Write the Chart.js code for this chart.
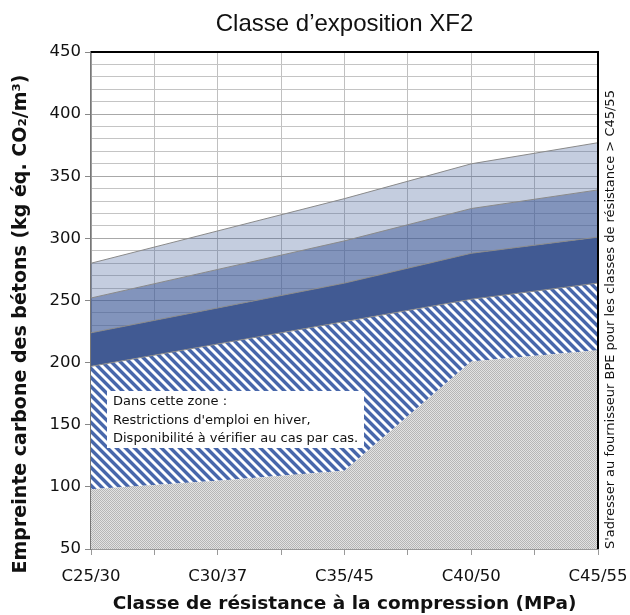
<!DOCTYPE html>
<html>
<head>
<meta charset="utf-8">
<script src="https://cdn.jsdelivr.net/npm/chart.js@4/dist/chart.umd.min.js"></script>
<style>
html,body{margin:0;padding:0;background:#fff;}
#wrap{width:630px;height:615px;position:relative;}
</style>
</head>
<body>
<div id="wrap"><canvas id="c" width="630" height="615"></canvas></div>
<script>
const categories = ["C25/30","C30/37","C35/45","C40/50","C45/55"];
const grayZone   = [98, 105, 113, 201, 210];
const hatchZone  = [197, 215, 233, 251, 264];
const darkZone   = [224, 244, 264, 288, 301];
const mediumZone = [252, 275, 298, 324, 339];
const lightZone  = [280, 306, 332, 360, 377];
const yMin = 50, yMax = 450;
const chartTitle = "Classe d’exposition XF2";
const xTitle = "Classe de résistance à la compression (MPa)";
const yTitle = "Empreinte carbone des bétons (kg éq. CO₂/m³)";
const rightNote = "S'adresser au fournisseur BPE pour les classes de résistance > C45/55";
const boxLines = ["Dans cette zone :", "Restrictions d'emploi en hiver,", "Disponibilité à vérifier au cas par cas."];

function toPts(arr){ return arr.map((v,i)=>({x:i,y:v})); }

function makeHatch(){
  const s = 9, cv = document.createElement('canvas'); cv.width = s; cv.height = s;
  const cx = cv.getContext('2d'); const img = cx.createImageData(s,s);
  for(let y=0;y<s;y++)for(let x=0;x<s;x++){
    const k = ((x - y) % s + s) % s; const i=(y*s+x)*4;
    let c = (k<4) ? [72,103,170] : (k===4||k===8 ? [170,186,220] : [255,255,255]);
    img.data[i]=c[0];img.data[i+1]=c[1];img.data[i+2]=c[2];img.data[i+3]=255;
  }
  cx.putImageData(img,0,0);
  return cx.createPattern(cv,'repeat');
}
function makeCheck(){
  const cv = document.createElement('canvas'); cv.width = 2; cv.height = 2;
  const cx = cv.getContext('2d');
  cx.fillStyle='#e2e2e2'; cx.fillRect(0,0,2,2);
  cx.fillStyle='#b6b6b6'; cx.fillRect(0,0,1,1); cx.fillRect(1,1,1,1);
  return cx.createPattern(cv,'repeat');
}

const ctx = document.getElementById('c').getContext('2d');
const hatch = makeHatch(), check = makeCheck();

const decor = {
  id:'decor',
  afterDraw(chart){
    const c = chart.ctx, a = chart.chartArea;
    c.save();
    // frame top/right
    c.strokeStyle='#000'; c.lineWidth=2;
    c.beginPath(); c.moveTo(a.left, a.top); c.lineTo(a.right, a.top); c.lineTo(a.right, a.bottom); c.stroke();
    // title
    c.fillStyle='#111'; c.font='24px "Liberation Sans Narrow","Liberation Sans"';
    c.textAlign='center'; c.textBaseline='middle';
    c.fillText(chartTitle, (a.left+a.right)/2, 24);
    // y title
    c.save();
    c.translate(21, 324); c.rotate(-Math.PI/2);
    c.font='bold 19px "DejaVu Sans"'; c.textAlign='center'; c.textBaseline='middle';
    c.fillText(yTitle, 0, 0);
    c.restore();
    // note box
    const bx = a.left + 16, by = a.top + 339, bw = 257, bh = 57;
    c.fillStyle='#fff'; c.fillRect(bx,by,bw,bh);
    c.fillStyle='#111'; c.font='13px "DejaVu Sans"'; c.textBaseline='middle'; c.textAlign='left';
    boxLines.forEach((t,i)=>c.fillText(t, bx+6, by+11+i*18.2));
    // right rotated note
    c.translate(a.right+13, a.bottom); c.rotate(-Math.PI/2);
    c.font='13px "DejaVu Sans"'; c.textAlign='left'; c.fillStyle='#111';
    c.fillText(rightNote, 0, 0);
    c.restore();
  }
};

new Chart(ctx, {
  type:'line',
  data:{ datasets:[
    {data:toPts(grayZone), fill:'start', backgroundColor:check, borderColor:'rgba(0,0,0,0)', borderWidth:0, pointRadius:0, tension:0},
    {data:toPts(hatchZone), fill:'-1', backgroundColor:hatch, borderColor:'#8a8a8a', borderWidth:1, pointRadius:0, tension:0},
    {data:toPts(darkZone), fill:'-1', backgroundColor:'#415a93', borderColor:'#8a8a8a', borderWidth:1, pointRadius:0, tension:0},
    {data:toPts(mediumZone), fill:'-1', backgroundColor:'rgba(60,88,150,0.64)', borderColor:'#8a8a8a', borderWidth:1, pointRadius:0, tension:0},
    {data:toPts(lightZone), fill:'-1', backgroundColor:'rgba(60,88,150,0.30)', borderColor:'#8a8a8a', borderWidth:1, pointRadius:0, tension:0}
  ]},
  options:{
    responsive:false, animation:false,
    layout:{padding:{left:2,right:32,top:52,bottom:0}},
    plugins:{ legend:{display:false}, tooltip:{enabled:false}, title:{display:false} },
    scales:{
      x:{type:'linear', min:0, max:4,
        afterFit:(s)=>{ s.height = 66; s.paddingRight = 0; s.paddingLeft = 0; },
        ticks:{stepSize:0.5, autoSkip:false, maxRotation:0, color:'#111', font:{family:'"DejaVu Sans"', size:16.5}, padding:12,
          callback:(v)=> Number.isInteger(v) ? categories[v] : ''},
        grid:{color:'#c0c0c0', tickColor:'#999', tickLength:6, drawOnChartArea:true},
        border:{color:'#999', width:1},
        title:{display:true, text:xTitle, color:'#111', font:{family:'"DejaVu Sans"', size:18.5, weight:'bold'}, padding:{top:2,bottom:0}}
      },
      y:{min:yMin, max:yMax,
        afterFit:(s)=>{ s.width = 89; s.paddingTop = 0; s.paddingBottom = 0; },
        ticks:{stepSize:10, autoSkip:false, color:'#111', font:{family:'"DejaVu Sans"', size:16.5}, padding:4,
          callback:(v)=> v%50===0 ? v : ''},
        grid:{color:(c)=> c.tick && c.tick.value%50===0 ? '#a8a8a8' : '#c4c4c4',
              tickColor:(c)=> c.tick && c.tick.value%50===0 ? '#888' : 'rgba(0,0,0,0)', tickLength:6},
        border:{color:'#777', width:1.5},
        title:{display:false}
      }
    }
  },
  plugins:[decor]
});
</script>
</body>
</html>
